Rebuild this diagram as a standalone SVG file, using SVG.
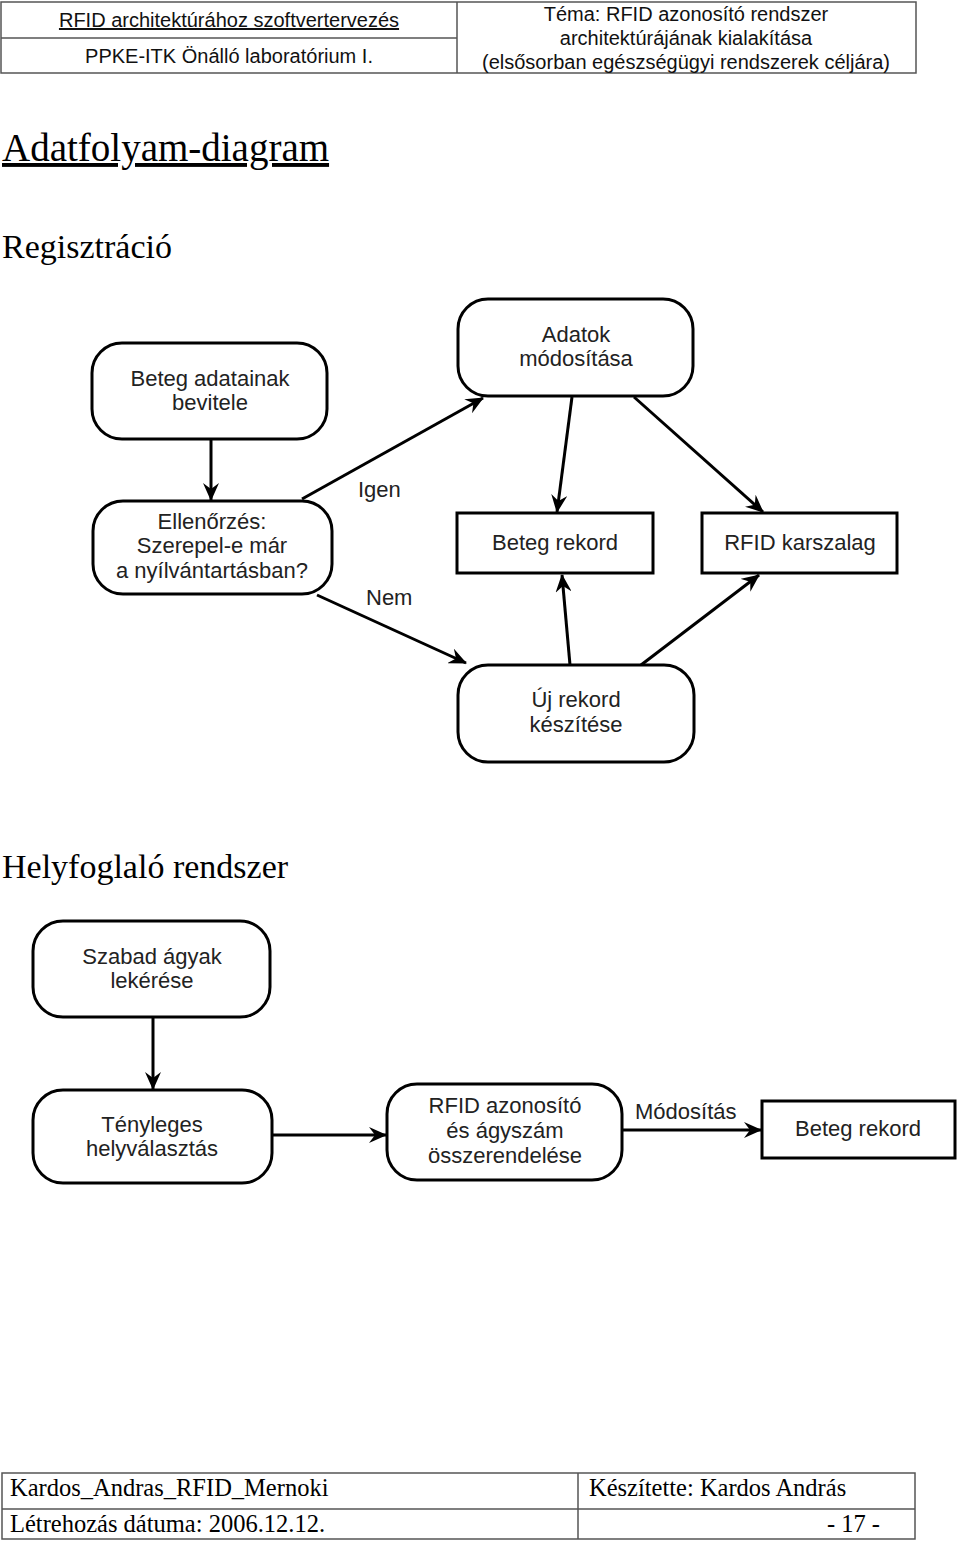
<svg xmlns="http://www.w3.org/2000/svg" width="960" height="1541" viewBox="0 0 960 1541">
<defs>
<marker id="ah" viewBox="0 0 18 16" markerWidth="18" markerHeight="16" refX="17" refY="8" orient="auto" markerUnits="userSpaceOnUse">
<path d="M0,0 L18,8 L0,16 L6,8 z" fill="#000"/>
</marker>
<style>
.hdr{font-family:"Liberation Sans",Arial,sans-serif;font-size:20px;fill:#111;text-anchor:middle}
.ttl{font-family:"Liberation Serif","Times New Roman",serif;fill:#000}
.ft{font-family:"Liberation Serif","Times New Roman",serif;font-size:24.5px;fill:#000}
.tbl{fill:none;stroke:#555;stroke-width:1.5}
.rn{fill:#fff;stroke:#000;stroke-width:3}
.nt{font-family:"Liberation Sans",Arial,sans-serif;font-size:22px;fill:#222;text-anchor:middle}
.lb{font-family:"Liberation Sans",Arial,sans-serif;font-size:22px;fill:#222}
.cn{fill:none;stroke:#000;stroke-width:3;marker-end:url(#ah)}
</style>
</defs>
<rect width="960" height="1541" fill="#fff"/>
<g id="header">
<rect class="tbl" x="1" y="2" width="915" height="71"/>
<line class="tbl" x1="457" y1="2" x2="457" y2="73"/>
<line class="tbl" x1="1" y1="38" x2="457" y2="38"/>
<text class="hdr" x="229" y="27" text-decoration="underline">RFID architektúrához szoftvertervezés</text>
<text class="hdr" x="229" y="63">PPKE-ITK Önálló laboratórium I.</text>
<text class="hdr" x="686" y="21">Téma: RFID azonosító rendszer</text>
<text class="hdr" x="686" y="45">architektúrájának kialakítása</text>
<text class="hdr" x="686" y="69">(elsősorban egészségügyi rendszerek céljára)</text>
</g>
<text class="ttl" x="2" y="161" font-size="39" text-decoration="underline">Adatfolyam-diagram</text>
<text class="ttl" x="2" y="258" font-size="34">Regisztráció</text>
<text class="ttl" x="2" y="878" font-size="34">Helyfoglaló rendszer</text>
<g id="connectors">
<line class="cn" x1="211" y1="440" x2="211" y2="500"/>
<line class="cn" x1="302" y1="499" x2="483" y2="398"/>
<line class="cn" x1="572" y1="397" x2="557" y2="512"/>
<line class="cn" x1="634" y1="397" x2="763" y2="512"/>
<line class="cn" x1="317" y1="595" x2="466" y2="663"/>
<line class="cn" x1="570" y1="665" x2="562" y2="575"/>
<line class="cn" x1="641" y1="665" x2="759" y2="575"/>
<line class="cn" x1="153" y1="1017" x2="153" y2="1089"/>
<line class="cn" x1="272" y1="1135" x2="386" y2="1135"/>
<line class="cn" x1="622" y1="1130" x2="761" y2="1130"/>
<text class="lb" x="358" y="497">Igen</text>
<text class="lb" x="366" y="605">Nem</text>
<text class="lb" x="635" y="1119">Módosítás</text>
</g>
<g id="n1"><rect class="rn" x="92" y="343" width="235" height="96" rx="30"/>
<text class="nt" x="210" y="386">Beteg adatainak</text><text class="nt" x="210" y="410">bevitele</text></g>
<g id="n2"><rect class="rn" x="93" y="501" width="239" height="93" rx="30"/>
<text class="nt" x="212" y="529">Ellenőrzés:</text><text class="nt" x="212" y="553">Szerepel-e már</text><text class="nt" x="212" y="578">a nyílvántartásban?</text></g>
<g id="n3"><rect class="rn" x="458" y="299" width="235" height="97" rx="30"/>
<text class="nt" x="576" y="342">Adatok</text><text class="nt" x="576" y="366">módosítása</text></g>
<g id="n4"><rect class="rn" x="457" y="513" width="196" height="60"/>
<text class="nt" x="555" y="550">Beteg rekord</text></g>
<g id="n5"><rect class="rn" x="702" y="513" width="195" height="60"/>
<text class="nt" x="800" y="550">RFID karszalag</text></g>
<g id="n6"><rect class="rn" x="458" y="665" width="236" height="97" rx="30"/>
<text class="nt" x="576" y="707">Új rekord</text><text class="nt" x="576" y="732">készítése</text></g>
<g id="n7"><rect class="rn" x="33" y="921" width="237" height="96" rx="30"/>
<text class="nt" x="152" y="964">Szabad ágyak</text><text class="nt" x="152" y="988">lekérése</text></g>
<g id="n8"><rect class="rn" x="33" y="1090" width="239" height="93" rx="30"/>
<text class="nt" x="152" y="1132">Tényleges</text><text class="nt" x="152" y="1156">helyválasztás</text></g>
<g id="n9"><rect class="rn" x="387" y="1084" width="235" height="96" rx="30"/>
<text class="nt" x="505" y="1113">RFID azonosító</text><text class="nt" x="505" y="1138">és ágyszám</text><text class="nt" x="505" y="1163">összerendelése</text></g>
<g id="n10"><rect class="rn" x="762" y="1101" width="193" height="57"/>
<text class="nt" x="858" y="1136">Beteg rekord</text></g>
<g id="footer">
<rect class="tbl" x="2" y="1473" width="913" height="66"/>
<line class="tbl" x1="2" y1="1509" x2="915" y2="1509"/>
<line class="tbl" x1="578" y1="1473" x2="578" y2="1539"/>
<text class="ft" x="10" y="1496">Kardos_Andras_RFID_Mernoki</text>
<text class="ft" x="589" y="1496">Készítette: Kardos András</text>
<text class="ft" x="10" y="1532">Létrehozás dátuma: 2006.12.12.</text>
<text class="ft" x="880" y="1532" text-anchor="end">- 17 -</text>
</g>
</svg>
